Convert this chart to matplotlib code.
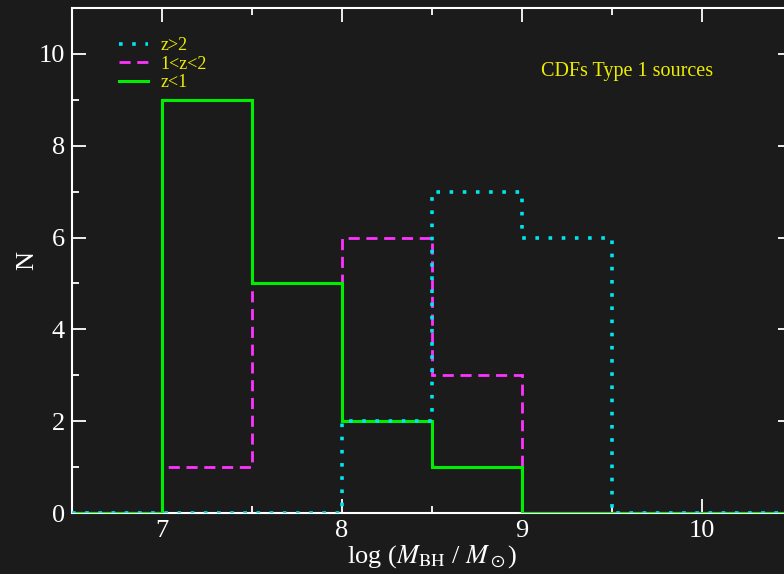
import matplotlib
matplotlib.use('Agg')
import matplotlib.pyplot as plt
from matplotlib.ticker import MultipleLocator

# bin edges in log(M_BH/M_sun) and counts per redshift bin
edges = [6.5, 7.0, 7.5, 8.0, 8.5, 9.0, 9.5, 10.0, 10.5]
n_zhigh = [0, 0, 0, 2, 7, 6, 0, 0]   # z>2
n_zmid = [0, 1, 5, 6, 3, 0, 0, 0]    # 1<z<2
n_zlow = [0, 9, 5, 2, 1, 0, 0, 0]    # z<1
labels = ['z>2', '1<z<2', 'z<1']

plt.rcParams['font.family'] = ['Liberation Serif', 'DejaVu Serif']
plt.rcParams['mathtext.fontset'] = 'stix'

bg = '#1b1b1b'
fig = plt.figure(figsize=(7.84, 5.74), dpi=100, facecolor=bg)
ax = fig.add_axes([72/784, 61/574, 720/784, 505/574], facecolor=bg)

ax.stairs(n_zmid, edges, baseline=None, color='#ff33ff', lw=2,
          linestyle=(0, (4, 2.4)), label=labels[1], zorder=2)
ax.stairs(n_zlow, edges, baseline=None, color='#00ee00', lw=2.2,
          label=labels[2], zorder=3)
ax.stairs(n_zhigh, edges, baseline=None, color='#00e5ee', lw=2.6,
          linestyle=(0, (1, 2.65)), label=labels[0], zorder=4)

ax.set_xlim(6.5, 10.5)
ax.set_ylim(0, 11)
ax.xaxis.set_major_locator(MultipleLocator(1))
ax.xaxis.set_minor_locator(MultipleLocator(0.5))
ax.yaxis.set_major_locator(MultipleLocator(2))
ax.yaxis.set_minor_locator(MultipleLocator(1))

for s in ax.spines.values():
    s.set_color('white')
    s.set_linewidth(1.5)
ax.tick_params(which='both', direction='in', top=True, right=True,
               colors='white', width=1.3, labelsize=19)
ax.tick_params(which='major', length=10, pad=5)
ax.tick_params(which='minor', length=5)

ax.set_xlabel(r'log ($M_{\rm BH}$ / $M_\odot$)', color='white', fontsize=19, labelpad=1)
ax.set_ylabel('N', color='white', fontsize=19, labelpad=0)

handles, labs = ax.get_legend_handles_labels()
order = [2, 0, 1]
leg = ax.legend([handles[i] for i in order], [labs[i] for i in order],
                loc='upper left', bbox_to_anchor=(0.043, 0.975), frameon=False,
                fontsize=13, labelspacing=0.1, handlelength=1.6, handletextpad=0.7)
for t in leg.get_texts():
    t.set_color('#eeee00')

ax.text(0.651, 0.875, 'CDFs Type 1 sources', transform=ax.transAxes,
        color='#eeee00', fontsize=14.5, ha='left', va='center')

fig.savefig('out.png', dpi=100, facecolor=bg)
